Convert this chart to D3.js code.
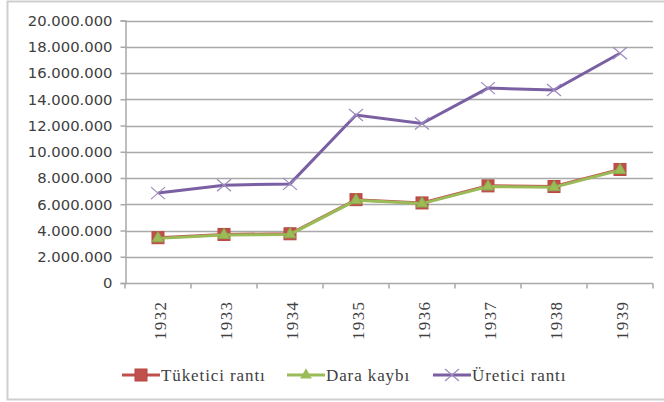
<!DOCTYPE html>
<html>
<head>
<meta charset="utf-8">
<script src="https://cdn.jsdelivr.net/npm/d3@7"></script>
<style>
  html, body { margin: 0; padding: 0; background: #fff; }
  svg { display: block; }
</style>
</head>
<body>
<svg id="chart" width="664" height="402"></svg>
<script>
// --- Data ---
const years = ['1932', '1933', '1934', '1935', '1936', '1937', '1938', '1939'];
const tuketici = [3450000, 3700000, 3750000, 6350000, 6100000, 7400000, 7350000, 8650000];
const dara = [3400000, 3650000, 3700000, 6300000, 6050000, 7350000, 7300000, 8600000];
const uretici = [6850000, 7450000, 7550000, 12800000, 12150000, 14850000, 14700000, 17500000];
const yTicks = [0, 2000000, 4000000, 6000000, 8000000, 10000000, 12000000, 14000000, 16000000, 18000000, 20000000];

// --- Colors ---
const redColor = '#c0504d';
const greenColor = '#9bbb59';
const purpleColor = '#7b5fa3';
const gridColor = '#a9a9a9';
const textColor = '#404040';

const svg = d3.select('#chart');

// outer frame
svg.append('rect')
  .attr('x', 7.5).attr('y', 1.5)
  .attr('width', 670).attr('height', 398)
  .attr('fill', 'none')
  .attr('stroke', '#cfcfcf')
  .attr('stroke-width', 2);

const x = d3.scaleBand().domain(years).range([125, 653]);
const y = d3.scaleLinear().domain([0, 20000000]).range([283, 20.5]);

const trFormat = d3.formatLocale({ decimal: ',', thousands: '.', grouping: [3], currency: ['', ''] }).format(',d');

// gridlines
svg.append('g')
  .selectAll('line')
  .data(yTicks)
  .enter().append('line')
  .attr('x1', 125).attr('x2', 653)
  .attr('y1', d => Math.round(y(d)) + 0.5)
  .attr('y2', d => Math.round(y(d)) + 0.5)
  .attr('stroke', gridColor)
  .attr('stroke-width', 1.5);

// y axis
const yAxis = svg.append('g')
  .attr('transform', 'translate(125.5,0)')
  .call(d3.axisLeft(y).tickValues(yTicks).tickFormat(trFormat).tickSize(5).tickPadding(8));
yAxis.select('.domain').attr('stroke', gridColor).attr('stroke-width', 1.5);
yAxis.selectAll('.tick line').attr('stroke', gridColor).attr('stroke-width', 1.5);
yAxis.selectAll('.tick text')
  .attr('fill', textColor)
  .style('font-family', 'DejaVu Sans, sans-serif')
  .style('font-size', '14.8px');

// x axis: ticks on category boundaries
const xAxis = svg.append('g').attr('transform', 'translate(0,283.5)');
const bounds = years.map(d => x(d)).concat([x(years[years.length - 1]) + x.bandwidth()]);
xAxis.selectAll('line.tk')
  .data(bounds)
  .enter().append('line')
  .attr('class', 'tk')
  .attr('x1', d => d).attr('x2', d => d)
  .attr('y1', 0).attr('y2', 5)
  .attr('stroke', gridColor)
  .attr('stroke-width', 1.5);
xAxis.selectAll('text')
  .data(years)
  .enter().append('text')
  .attr('transform', d => `translate(${x(d) + x.bandwidth() / 2 + 2},17) rotate(-90)`)
  .attr('text-anchor', 'end')
  .attr('dy', '0.35em')
  .attr('fill', textColor)
  .style('font-family', 'Liberation Serif, serif')
  .style('font-size', '17px')
  .style('letter-spacing', '1.4px')
  .text(d => d);

// --- Lines ---
const cx = d => x(d) + x.bandwidth() / 2;
const line = d3.line().x((d, i) => cx(years[i])).y(d => y(d));
const tri = d3.symbol().type(d3.symbolTriangle).size(60);

// Tüketici rantı (drawn first, mostly covered by Dara kaybı)
svg.append('path').datum(tuketici)
  .attr('d', line).attr('fill', 'none')
  .attr('stroke', redColor).attr('stroke-width', 3);
svg.selectAll('rect.tk')
  .data(tuketici)
  .enter().append('rect')
  .attr('class', 'tk')
  .attr('x', (d, i) => cx(years[i]) - 6)
  .attr('y', d => y(d) - 6)
  .attr('width', 12).attr('height', 12)
  .attr('fill', redColor)
  .attr('stroke', '#b8473f').attr('stroke-width', 1);

// Dara kaybı
svg.append('path').datum(dara)
  .attr('d', line).attr('fill', 'none')
  .attr('stroke', greenColor).attr('stroke-width', 3);
svg.selectAll('path.dk')
  .data(dara)
  .enter().append('path')
  .attr('class', 'dk')
  .attr('d', tri)
  .attr('transform', (d, i) => `translate(${cx(years[i])},${y(d)})`)
  .attr('fill', greenColor)
  .attr('stroke', '#8aab4c').attr('stroke-width', 1);

// Üretici rantı
svg.append('path').datum(uretici)
  .attr('d', line).attr('fill', 'none')
  .attr('stroke', purpleColor).attr('stroke-width', 3);
svg.selectAll('path.uk')
  .data(uretici)
  .enter().append('path')
  .attr('class', 'uk')
  .attr('d', 'M-7,-6L7,6M-7,6L7,-6')
  .attr('transform', (d, i) => `translate(${cx(years[i])},${y(d)})`)
  .attr('fill', 'none')
  .attr('stroke', '#9d8bbd').attr('stroke-width', 1.2);

// --- Legend ---
const legendItems = [
  { name: 'Tüketici rantı', color: redColor, marker: 'square', x: 122 },
  { name: 'Dara kaybı', color: greenColor, marker: 'triangle', x: 287 },
  { name: 'Üretici rantı', color: purpleColor, marker: 'x', x: 433 }
];
const legend = svg.append('g').attr('transform', 'translate(0,375)');
legendItems.forEach(item => {
  const g = legend.append('g').attr('transform', `translate(${item.x},0)`);
  g.append('line').attr('x1', 0).attr('x2', 38).attr('y1', 0).attr('y2', 0)
    .attr('stroke', item.color).attr('stroke-width', 3);
  if (item.marker === 'square') {
    g.append('rect').attr('x', 13).attr('y', -6).attr('width', 12).attr('height', 12)
      .attr('fill', item.color).attr('stroke', '#b8473f');
  } else if (item.marker === 'triangle') {
    g.append('path').attr('d', tri).attr('transform', 'translate(19,0)')
      .attr('fill', item.color);
  } else {
    g.append('path').attr('d', 'M-7,-6L7,6M-7,6L7,-6').attr('transform', 'translate(19,0)')
      .attr('stroke', '#9d8bbd').attr('stroke-width', 1.2);
  }
  g.append('text').attr('x', 39).attr('dy', '0.35em')
    .attr('fill', textColor)
    .style('font-family', 'Liberation Serif, serif')
    .style('font-size', '17px')
    .style('letter-spacing', '0.9px')
    .text(item.name);
});
</script>
</body>
</html>
